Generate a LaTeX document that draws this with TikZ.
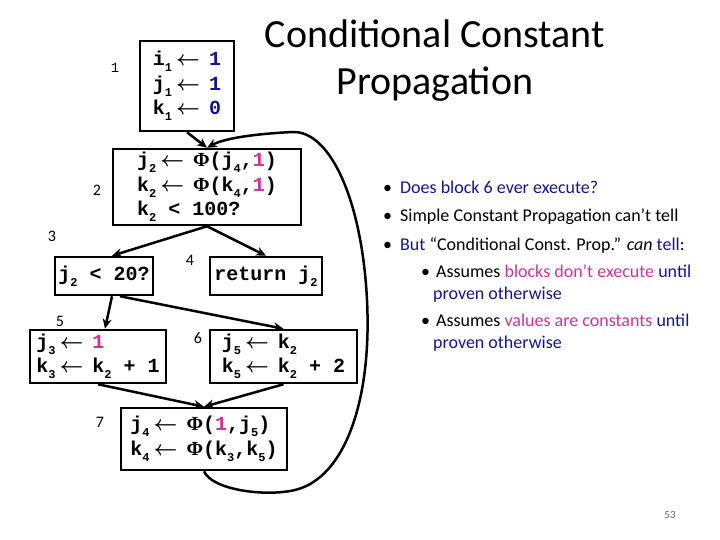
\documentclass[tikz,border=0pt]{standalone}
\usepackage{fontspec}
\usepackage{amsmath}
\setmainfont{Carlito}
\newfontfamily\codefont{Liberation Mono}
\newfontfamily\phifont{Liberation Serif}
\usetikzlibrary{arrows.meta}
\definecolor{navy}{RGB}{20,20,140}
\definecolor{pinkc}{RGB}{204,51,153}
\definecolor{pgray}{RGB}{100,100,100}
\newcommand\sbs[1]{\raisebox{-0.3em}{\fontsize{12}{12}\selectfont #1}}
\newcommand\la{\hspace{4pt}$\boldsymbol{\leftarrow}$\hspace{9pt}}
\newcommand\phis{{\phifont\bfseries Φ}}
\tikzset{
  blk/.style={draw, line width=2.5pt, inner sep=0pt, align=left,
    font=\codefont\bfseries\fontsize{20}{24.5}\selectfont},
  edge/.style={line width=2.5pt, -{Stealth[length=10pt,width=9pt]}},
  lbl/.style={font=\fontsize{16}{16}\selectfont},
  bul/.style={anchor=base west, font=\fontsize{18}{21}\selectfont, inner sep=0pt},
}
\begin{document}
\begin{tikzpicture}[x=1pt,y=-1pt]
\useasboundingbox (0,0) rectangle (720,540);
% title
\node[font=\fontsize{40}{47}\selectfont, align=center] (title) at (435,61) {Conditional Constant\\Propagation};
% blocks
\node[blk, minimum width=94pt, minimum height=90pt] (b1) at (187,86)
  {i\sbs{1}\la\textcolor{navy}{1}\\j\sbs{1}\la\textcolor{navy}{1}\\k\sbs{1}\la\textcolor{navy}{0}};
\node[blk, minimum width=188pt, minimum height=76pt] (b2) at (207,187)
  {j\sbs{2}\la\phis(j\sbs{4},\textcolor{pinkc}{1})\\k\sbs{2}\la\phis(k\sbs{4},\textcolor{pinkc}{1})\\k\sbs{2} < 100?};
\node[blk, minimum width=98pt, minimum height=38pt] (b3) at (104,276) {j\sbs{2} < 20?};
\node[blk, minimum width=112pt, minimum height=38pt] (b4) at (266,276) {return j\sbs{2}};
\node[blk, minimum width=136pt, minimum height=53pt] (b5) at (98,356.5)
  {j\sbs{3}\la\textcolor{pinkc}{1}\\k\sbs{3}\la k\sbs{2} + 1};
\node[blk, minimum width=147pt, minimum height=53pt] (b6) at (283.5,356.5)
  {j\sbs{5}\la k\sbs{2}\\k\sbs{5}\la k\sbs{2} + 2};
\node[blk, minimum width=166pt, minimum height=62pt] (b7) at (204,439)
  {j\sbs{4}\la\phis(\textcolor{pinkc}{1},j\sbs{5})\\k\sbs{4}\la\phis(k\sbs{3},k\sbs{5})};
% labels
\node[font=\codefont\fontsize{14}{14}\selectfont] (l1) at (115,68) {1};
\node[lbl] (l2) at (97,190) {2};
\node[lbl] (l3) at (52,236) {3};
\node[lbl] (l4) at (190,260) {4};
\node[lbl] (l5) at (60,321) {5};
\node[lbl] (l6) at (198,338) {6};
\node[lbl] (l7) at (100,422) {7};
% edges
\draw[edge] (b1.south) -- (b2.north);
\draw[edge] (b2.south) -- ([xshift=8pt]b3.north);
\draw[edge] (b2.south) -- (b4.north);
\draw[edge] ([xshift=8pt]b3.south) -- ([xshift=7pt]b5.north);
\draw[edge] ([xshift=16pt]b3.south) -- (b6.north);
\draw[edge] (b5.south) -- (b7.north);
\draw[edge] (b6.south) -- (b7.north);
\draw[edge] (b7.south) .. controls (212,490) and (265,497) .. (295,490)
  .. controls (345,478) and (372,400) .. (367,300)
  .. controls (362,200) and (330,130) .. (292,132)
  .. controls (255,134) and (225,138) .. (b2.north);
% bullets
\node[bul] (t1) at (383,194) {•\hspace{8pt}\textcolor{navy}{Does block 6 ever execute?}};
\node[bul] (t2) at (383,222) {•\hspace{8pt}Simple Constant Propagation can’t tell};
\node[bul] (t3) at (383,250) {•\hspace{8pt}\textcolor{navy}{But} “Conditional Const. Prop.” \textit{can} \textcolor{navy}{tell}:};
\node[bul] (t4) at (421,277) {•\hspace{6pt}Assumes \textcolor{pinkc}{blocks don’t execute} \textcolor{navy}{until}};
\node[bul] (t4b) at (433,299) {\textcolor{navy}{proven otherwise}};
\node[bul] (t5) at (421,326) {•\hspace{6pt}Assumes \textcolor{pinkc}{values are constants} \textcolor{navy}{until}};
\node[bul] (t5b) at (433,348) {\textcolor{navy}{proven otherwise}};
\node[font=\fontsize{11}{11}\selectfont, text=pgray] (pn) at (670,515) {53};
\end{tikzpicture}
\end{document}
